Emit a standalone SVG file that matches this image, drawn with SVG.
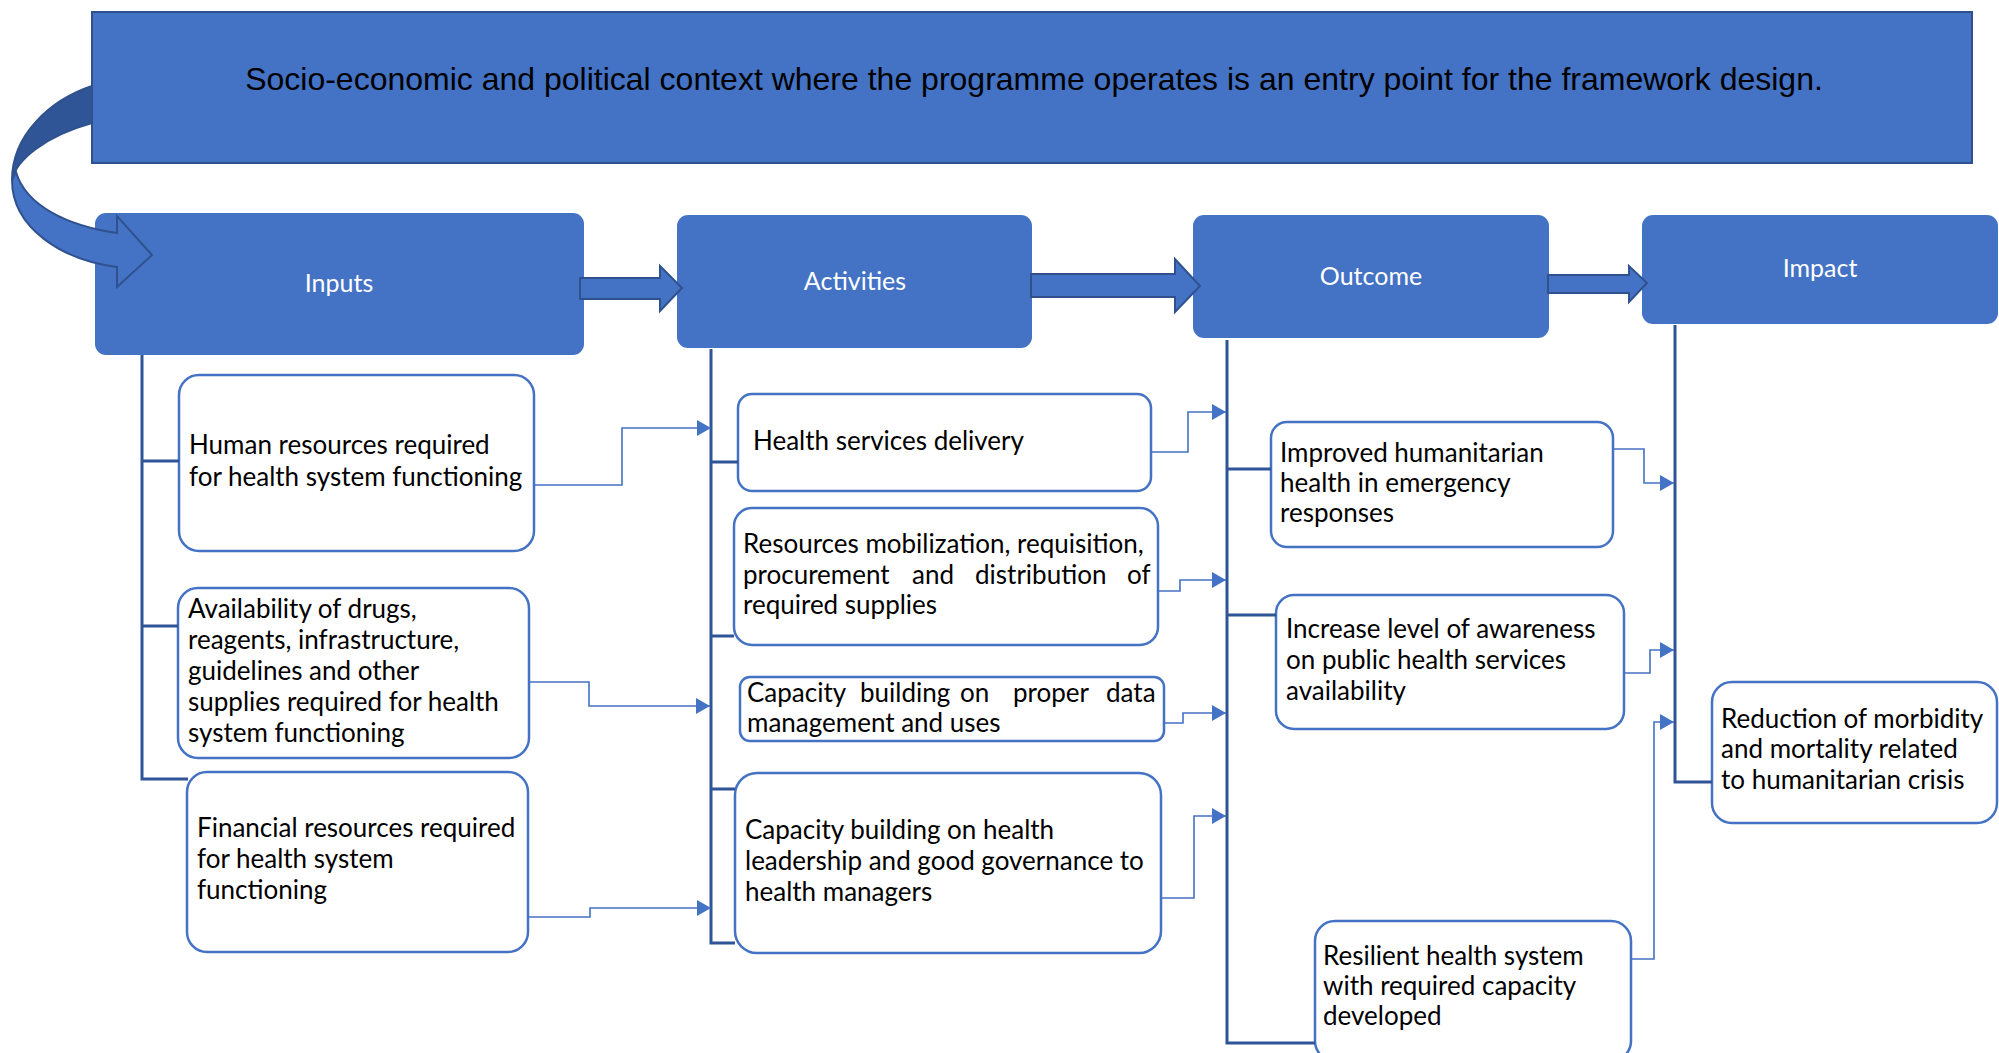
<svg xmlns="http://www.w3.org/2000/svg" width="1999" height="1053" viewBox="0 0 1999 1053">
  <style>
    .banner { fill: #4472C4; stroke: #2F528F; stroke-width: 2; }
    .stage { fill: #4472C4; }
    .stage-label { font-family: Lato, "Open Sans", sans-serif; font-size: 25px; fill: #FFFFFF; text-anchor: middle; }
    .item { fill: #FFFFFF; stroke: #4472C4; stroke-width: 2.5; }
    .item-text { font-family: Lato, "Open Sans", sans-serif; font-size: 26px; fill: #000000; }
    .fat-arrow { fill: #4472C4; stroke: #2F528F; stroke-width: 2; stroke-linejoin: miter; }
    .trunk { fill: none; stroke: #2F5597; stroke-width: 3; }
    .link { fill: none; stroke: #4472C4; stroke-width: 1.6; }
  </style>
  <defs>
    <marker id="tip" markerUnits="userSpaceOnUse" markerWidth="16" markerHeight="18" refX="14" refY="8" orient="auto">
      <path d="M0,0 L14,8 L0,16 Z" fill="#4472C4"/>
    </marker>
  </defs>

  <rect width="1999" height="1053" fill="#FFFFFF"/>

  <!-- context banner -->
  <g id="context">
    <rect class="banner" x="92" y="12" width="1880" height="151"/>
    <text x="1034" y="90" font-family="'Liberation Sans', Arial, sans-serif" font-size="32" fill="#000000" text-anchor="middle">Socio-economic and political context where the programme operates is an entry point for the framework design.</text>
  </g>

  <!-- stage headers -->
  <g id="inputs">
    <rect class="stage" x="95" y="213" width="489" height="142" rx="11"/>
    <text class="stage-label" x="339" y="292">Inputs</text>
  </g>
  <g id="activities">
    <rect class="stage" x="677" y="215" width="355" height="133" rx="11"/>
    <text class="stage-label" x="855" y="290">Activities</text>
  </g>
  <g id="outcome">
    <rect class="stage" x="1193" y="215" width="356" height="123" rx="11"/>
    <text class="stage-label" x="1371" y="285">Outcome</text>
  </g>
  <g id="impact">
    <rect class="stage" x="1642" y="215" width="356" height="109" rx="11"/>
    <text class="stage-label" x="1820" y="277">Impact</text>
  </g>

  <!-- curved entry arrow from the banner into Inputs (drawn over both) -->
  <g id="entry-arrow">
    <path d="M92,86 C50,100 12,135 12,180 C16,160 45,136 92,123 Z" fill="#2F5597" stroke="#2F528F" stroke-width="2"/>
    <path class="fat-arrow" d="M12,180 C12,228 62,260 117,267 L117,287 L152,255 L117,216 L117,233 C68,226 26,206 16,172 Z"/>
  </g>

  <!-- block arrows between stages -->
  <g id="stage-arrows">
    <path class="fat-arrow" d="M580,278 H660 V266 L682,288 L660,311 V299 H580 Z"/>
    <path class="fat-arrow" d="M1031,274 H1175 V259 L1200,286 L1175,312 V297 H1031 Z"/>
    <path class="fat-arrow" d="M1548,275 H1629 V266 L1647,283 L1629,302 V293 H1548 Z"/>
  </g>

  <!-- input items -->
  <g id="human-resources">
    <rect class="item" x="179" y="375" width="355" height="176" rx="20"/>
    <text class="item-text" x="189" y="454">Human resources required</text>
    <text class="item-text" x="189" y="486">for health system functioning</text>
  </g>
  <g id="supplies">
    <rect class="item" x="178" y="588" width="351" height="170" rx="20"/>
    <text class="item-text" x="188" y="618">Availability of drugs,</text>
    <text class="item-text" x="188" y="649">reagents, infrastructure,</text>
    <text class="item-text" x="188" y="680">guidelines and other</text>
    <text class="item-text" x="188" y="711">supplies required for health</text>
    <text class="item-text" x="188" y="742">system functioning</text>
  </g>
  <g id="financial-resources">
    <rect class="item" x="187" y="772" width="341" height="180" rx="20"/>
    <text class="item-text" x="197" y="837">Financial resources required</text>
    <text class="item-text" x="197" y="868">for health system</text>
    <text class="item-text" x="197" y="899">functioning</text>
  </g>

  <!-- activity items -->
  <g id="service-delivery">
    <rect class="item" x="738" y="394" width="413" height="97" rx="14"/>
    <text class="item-text" x="753" y="450">Health services delivery</text>
  </g>
  <g id="resource-mobilization">
    <rect class="item" x="734" y="508" width="424" height="137" rx="18"/>
    <text class="item-text" x="743" y="553">Resources mobilization, requisition,</text>
    <text class="item-text" y="584"><tspan x="743">procurement</tspan><tspan x="912">and</tspan><tspan x="975">distribution</tspan><tspan x="1127">of</tspan></text>
    <text class="item-text" x="743" y="614">required supplies</text>
  </g>
  <g id="data-capacity">
    <rect class="item" x="740" y="677" width="424" height="64" rx="10"/>
    <text class="item-text" y="702"><tspan x="747">Capacity</tspan><tspan x="860">building</tspan><tspan x="960">on</tspan><tspan x="1013">proper</tspan><tspan x="1106">data</tspan></text>
    <text class="item-text" x="747" y="732">management and uses</text>
  </g>
  <g id="leadership-capacity">
    <rect class="item" x="735" y="773" width="426" height="180" rx="22"/>
    <text class="item-text" x="745" y="839">Capacity building on health</text>
    <text class="item-text" x="745" y="870">leadership and good governance to</text>
    <text class="item-text" x="745" y="901">health managers</text>
  </g>

  <!-- outcome items -->
  <g id="humanitarian-health">
    <rect class="item" x="1271" y="422" width="342" height="125" rx="16"/>
    <text class="item-text" x="1280" y="462">Improved humanitarian</text>
    <text class="item-text" x="1280" y="492">health in emergency</text>
    <text class="item-text" x="1280" y="522">responses</text>
  </g>
  <g id="awareness">
    <rect class="item" x="1276" y="595" width="348" height="134" rx="18"/>
    <text class="item-text" x="1286" y="638">Increase level of awareness</text>
    <text class="item-text" x="1286" y="669">on public  health services</text>
    <text class="item-text" x="1286" y="700">availability</text>
  </g>
  <g id="resilient-system">
    <rect class="item" x="1315" y="921" width="316" height="140" rx="20"/>
    <text class="item-text" x="1323" y="965">Resilient health system</text>
    <text class="item-text" x="1323" y="995">with required capacity</text>
    <text class="item-text" x="1323" y="1025">developed</text>
  </g>

  <!-- impact item -->
  <g id="morbidity-reduction">
    <rect class="item" x="1712" y="682" width="285" height="141" rx="20"/>
    <text class="item-text" x="1721" y="728">Reduction of morbidity</text>
    <text class="item-text" x="1721" y="758">and mortality related</text>
    <text class="item-text" x="1721" y="789">to humanitarian crisis</text>
  </g>

  <!-- connectors: column trunks with branches, and elbow links between columns -->
  <g id="connectors">
    <path class="trunk" d="M142,355 V779 H188 M142,461 H179 M142,626 H178"/>
    <path class="trunk" d="M711,349 V943 H735 M711,462 H738 M711,636 H734 M711,789 H735"/>
    <path class="trunk" d="M1227,340 V1043 H1315 M1227,469 H1271 M1227,615 H1276"/>
    <path class="trunk" d="M1675,325 V782 H1712"/>

    <path class="link" marker-end="url(#tip)" d="M534,485 H622 V428 H711"/>
    <path class="link" marker-end="url(#tip)" d="M529,682 H589 V706 H710"/>
    <path class="link" marker-end="url(#tip)" d="M528,917 H590 V908 H711"/>

    <path class="link" marker-end="url(#tip)" d="M1151,452 H1188 V412 H1226"/>
    <path class="link" marker-end="url(#tip)" d="M1158,591 H1180 V580 H1226"/>
    <path class="link" marker-end="url(#tip)" d="M1164,723 H1183 V713 H1226"/>
    <path class="link" marker-end="url(#tip)" d="M1161,898 H1194 V816 H1226"/>

    <path class="link" marker-end="url(#tip)" d="M1613,449 H1644 V483 H1674"/>
    <path class="link" marker-end="url(#tip)" d="M1624,673 H1650 V650 H1674"/>
    <path class="link" marker-end="url(#tip)" d="M1631,959 H1654 V722 H1674"/>
  </g>
</svg>
